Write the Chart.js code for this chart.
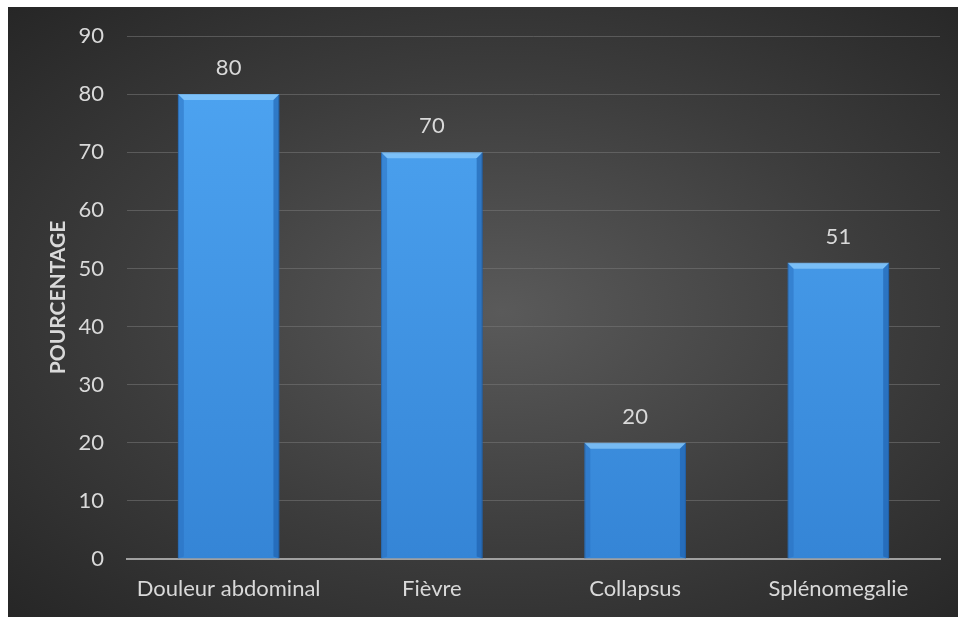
<!DOCTYPE html>
<html>
<head>
<meta charset="utf-8">
<script src="https://cdn.jsdelivr.net/npm/chart.js@4.4.0/dist/chart.umd.min.js"></script>
<style>
    html, body { margin: 0; padding: 0; background: #ffffff; overflow: hidden; }
    #wrap {
        position: absolute;
        left: 8px; top: 7px;
        width: 950px; height: 610px;
        background: radial-gradient(ellipse at 52% 50%, #5a5a5a 0%, #3c3c3c 55%, #262626 100%);
    }
    canvas { display: block; }
</style>
</head>
<body>
<div id="wrap"><canvas id="chart" width="950" height="610"></canvas></div>
<script>
// Données
const categories = ['Douleur abdominal', 'Fièvre', 'Collapsus', 'Splénomegalie'];
const values = [80, 70, 20, 51];
const yTicks = [0, 10, 20, 30, 40, 50, 60, 70, 80, 90];

const textColor = '#d9d9d9';
const fontFamily = 'Lato, "Open Sans", sans-serif';

// Dégradé vertical des barres
function barGradient(context) {
    const chart = context.chart;
    const area = chart.chartArea;
    if (!area) return '#4a9ff0';
    const g = chart.ctx.createLinearGradient(0, area.top, 0, area.bottom);
    g.addColorStop(0, '#4fa6f3');
    g.addColorStop(1, '#3585d6');
    return g;
}

// Effet biseauté + étiquettes de valeurs
const bevelAndLabels = {
    id: 'bevelAndLabels',
    afterDatasetsDraw(chart) {
        const ctx = chart.ctx;
        const meta = chart.getDatasetMeta(0);
        meta.data.forEach((bar, i) => {
            const left = bar.x - bar.width / 2;
            const right = bar.x + bar.width / 2;
            const top = bar.y;
            const bottom = bar.base;
            const b = 6;
            ctx.save();
            // bord haut clair
            ctx.fillStyle = 'rgba(150, 210, 255, 0.65)';
            ctx.beginPath();
            ctx.moveTo(left, top);
            ctx.lineTo(right, top);
            ctx.lineTo(right - b, top + b);
            ctx.lineTo(left + b, top + b);
            ctx.closePath();
            ctx.fill();
            // bord gauche
            ctx.fillStyle = 'rgba(40, 110, 190, 0.5)';
            ctx.beginPath();
            ctx.moveTo(left, top);
            ctx.lineTo(left + b, top + b);
            ctx.lineTo(left + b, bottom - 2);
            ctx.lineTo(left, bottom);
            ctx.closePath();
            ctx.fill();
            // bord droit
            ctx.fillStyle = 'rgba(25, 90, 165, 0.55)';
            ctx.beginPath();
            ctx.moveTo(right, top);
            ctx.lineTo(right - b, top + b);
            ctx.lineTo(right - b, bottom - 2);
            ctx.lineTo(right, bottom);
            ctx.closePath();
            ctx.fill();
            // étiquette
            ctx.fillStyle = textColor;
            ctx.font = '22px ' + fontFamily;
            ctx.textAlign = 'center';
            ctx.textBaseline = 'bottom';
            ctx.fillText(String(values[i]), bar.x, top - 15);
            ctx.restore();
        });
    }
};

new Chart(document.getElementById('chart'), {
    type: 'bar',
    data: {
        labels: categories,
        datasets: [{
            data: values,
            backgroundColor: barGradient,
            borderColor: '#2a6fb5',
            borderWidth: 1,
            barPercentage: 0.5,
            categoryPercentage: 1.0
        }]
    },
    options: {
        responsive: false,
        animation: false,
        layout: { padding: { left: 0, top: 29, right: 18, bottom: 0 } },
        plugins: {
            legend: { display: false },
            tooltip: { enabled: false }
        },
        scales: {
            x: {
                grid: { display: false, drawTicks: false },
                border: { display: true, color: '#a0a0a0', width: 2 },
                ticks: {
                    color: textColor,
                    font: { family: fontFamily, size: 22 },
                    padding: 17,
                    maxRotation: 0
                },
                afterFit(scale) { scale.height = 58; }
            },
            y: {
                min: 0,
                max: 90,
                afterBuildTicks(scale) {
                    scale.ticks = yTicks.map(v => ({ value: v }));
                },
                grid: { color: 'rgba(120, 120, 120, 0.55)', lineWidth: 1, drawTicks: false },
                border: { display: false },
                ticks: {
                    color: textColor,
                    font: { family: fontFamily, size: 22 },
                    padding: 23
                },
                title: {
                    display: true,
                    text: 'POURCENTAGE',
                    color: textColor,
                    font: { family: fontFamily, size: 21, weight: 'bold' },
                    padding: { top: 38, bottom: 0 }
                },
                afterFit(scale) {
                    scale.width = 119;
                    // pas de marge supplémentaire en haut pour l'étiquette 90
                    scale.paddingTop = 0;
                    scale.paddingBottom = 0;
                }
            }
        }
    },
    plugins: [bevelAndLabels]
});
</script>
</body>
</html>
